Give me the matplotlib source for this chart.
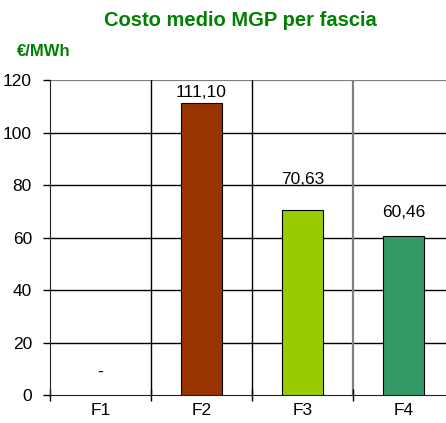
import matplotlib.pyplot as plt
from matplotlib.ticker import FixedLocator

plt.rcParams['font.family'] = ['Liberation Sans', 'DejaVu Sans']

# --- dati ---
fasce = ['F1', 'F2', 'F3', 'F4']
costo = [0.0, 111.10, 70.63, 60.46]
etichette = ['-', '111,10', '70,63', '60,46']
colori = ['#FFFFFF', '#993300', '#99CC00', '#339966']
y_ticks = [0, 20, 40, 60, 80, 100, 120]

fig = plt.figure(figsize=(4.46, 4.23), dpi=100)
ax = fig.add_axes([50 / 446, 28 / 423, 404 / 446, 315 / 423])

x = list(range(len(fasce)))
for i in x:
    if costo[i] > 0:
        ax.bar(i, costo[i], width=0.4, color=colori[i], edgecolor='black', linewidth=0.8, zorder=3)

# etichette (spostamento in punti sopra la barra)
offset = [0, 2.5, 16, 12]
for i in x:
    yv = costo[i] if costo[i] > 0 else 8.8
    ax.annotate(etichette[i], (i, yv), xytext=(0, offset[i]), textcoords='offset points',
                ha='center', va='bottom' if costo[i] > 0 else 'center', fontsize=12.5)

ax.set_xlim(-0.5, 3.5)
ax.set_ylim(0, 120)
ax.set_yticks(y_ticks)
ax.set_xticks(x)
ax.set_xticklabels(fasce)
ax.xaxis.set_minor_locator(FixedLocator([-0.5, 0.5, 1.5, 2.5]))
ax.tick_params(axis='x', which='major', length=0, pad=6, labelsize=12.5)
ax.tick_params(axis='x', which='minor', direction='inout', length=8, width=1)
ax.tick_params(axis='y', direction='out', length=5, width=1, labelsize=12.5, pad=8)

# griglia
for v in y_ticks[1:-1]:
    ax.axhline(v, color='black', lw=1, zorder=1)
ax.axhline(120, color='#808080', lw=1.6, zorder=1)
for b in [0.5, 1.5]:
    ax.axvline(b, color='black', lw=1, zorder=1)
ax.axvline(2.5, color='#808080', lw=1.6, zorder=1)

for s in ['top', 'right']:
    ax.spines[s].set_visible(False)
ax.spines['left'].set_color('#222222')
ax.spines['bottom'].set_color('#222222')

fig.text(240 / 446, 1 - 20 / 423, 'Costo medio MGP per fascia', ha='center', va='center',
         fontsize=14.5, fontweight='bold', color='#008000')
fig.text(17 / 446, 1 - 52 / 423, '€/MWh', ha='left', va='center',
         fontsize=12, fontweight='bold', color='#008000')

fig.savefig('out.png', dpi=100)
